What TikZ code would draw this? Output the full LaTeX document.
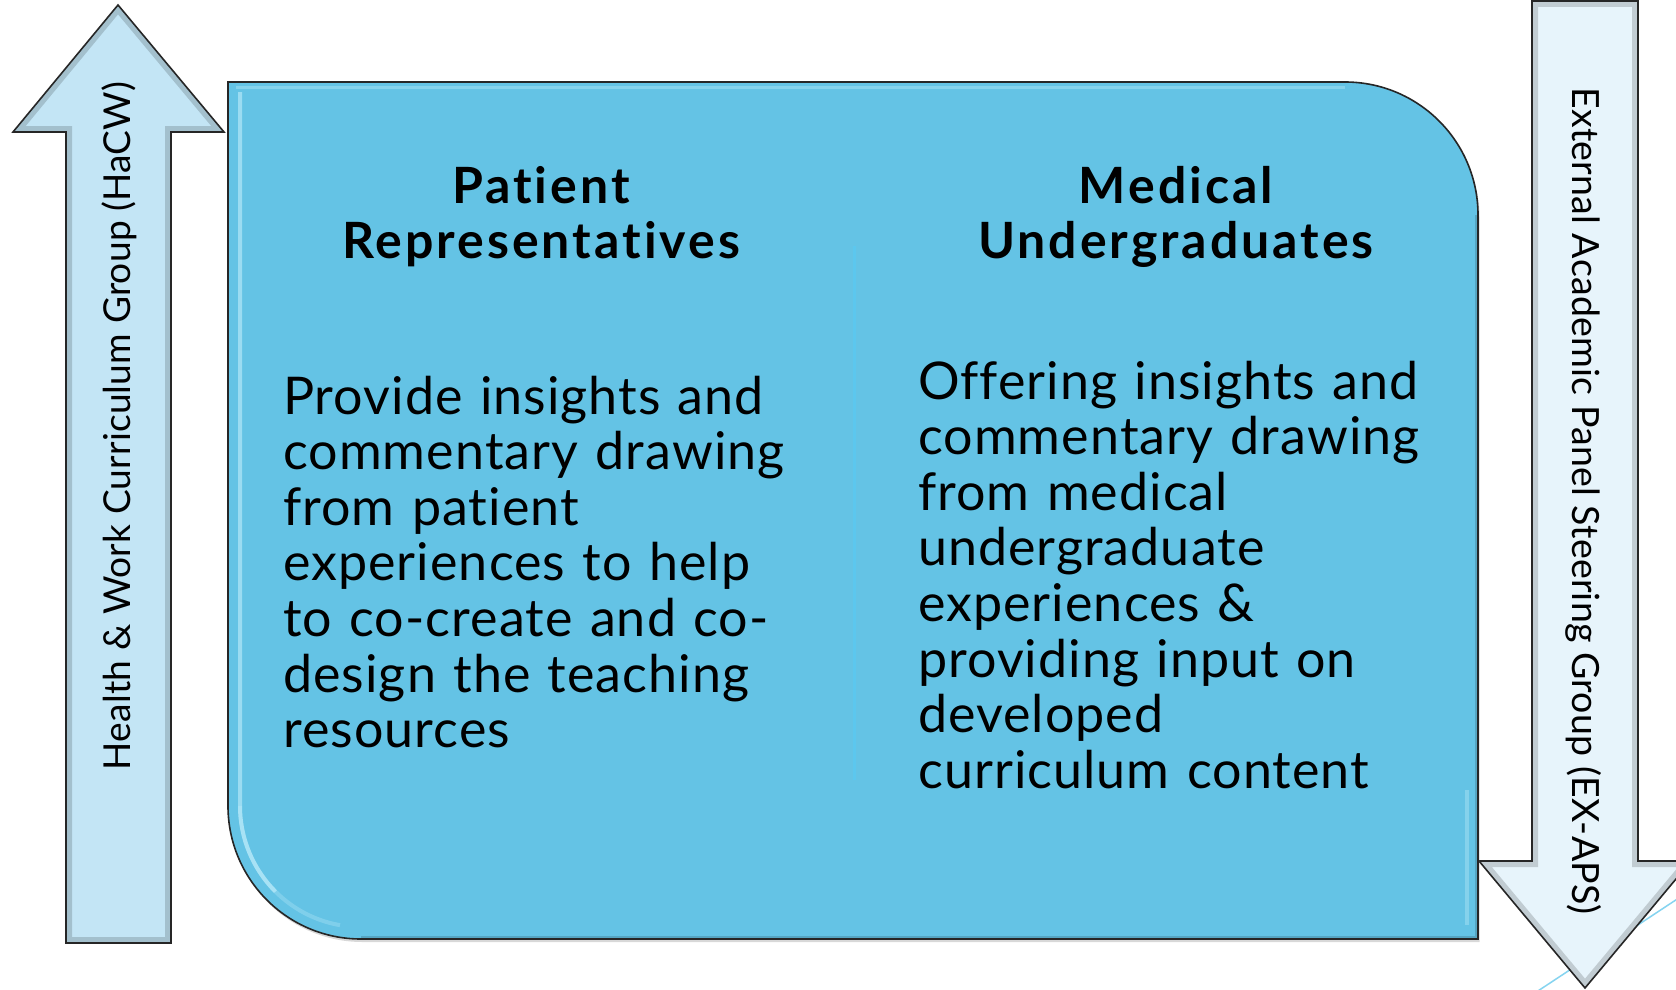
\documentclass[tikz,border=0pt]{standalone}
\usepackage{fontspec}
\setmainfont{Lato}
\newfontfamily\headfont[LetterSpace=6,Ligatures=NoCommon]{Lato}
\newfontfamily\bodyfont[LetterSpace=2,Ligatures=NoCommon]{Lato}
\newfontfamily\sidefont[LetterSpace=0.5,Ligatures=NoCommon]{Lato}
\usetikzlibrary{shadows}
\definecolor{boxblue}{HTML}{64C3E5}
\definecolor{leftfill}{HTML}{C3E5F5}
\definecolor{rightfill}{HTML}{E7F4FB}
\definecolor{divider}{HTML}{5CC7EE}
\definecolor{deco}{HTML}{86D4F0}
\definecolor{hilite}{HTML}{D2F6FF}
\begin{document}
\begin{tikzpicture}[x=1pt,y=-1pt,
  outline/.style={draw=black!85, line width=1.6pt, line join=miter},
  bevel/.style={draw=black, opacity=0.16, line width=12pt},
  bodytext/.style={inner sep=0pt, anchor=base west, text width=640pt, align=left,
    font=\bodyfont\fontsize{52}{55.6}\selectfont},
  headtext/.style={inner sep=0pt, anchor=base, text width=640pt, align=center,
    font=\headfont\bfseries\fontsize{50}{55.6}\selectfont},
  sidetext/.style={inner sep=0pt, anchor=base, font=\sidefont\fontsize{37.5}{40}\selectfont}]
\useasboundingbox (0,0) rectangle (1676,990);
\clip (0,0) rectangle (1676,990);
\fill[white] (0,0) rectangle (1676,990);

% decorative background line
\draw[deco, line width=1.5pt] (1500,1016) -- (1700,884);

% left arrow (up)
\fill[leftfill] (118,5) -- (224,132) -- (171,132) -- (171,943) -- (66,943) -- (66,132) -- (13,132) -- cycle;
\begin{scope}
  \clip (118,5) -- (224,132) -- (171,132) -- (171,943) -- (66,943) -- (66,132) -- (13,132) -- cycle;
  \draw[bevel] (118,5) -- (224,132) -- (171,132) -- (171,943) -- (66,943) -- (66,132) -- (13,132) -- cycle;
\end{scope}
\draw[outline] (118,5) -- (224,132) -- (171,132) -- (171,943) -- (66,943) -- (66,132) -- (13,132) -- cycle;

% right arrow (down)
\fill[rightfill] (1532,1) -- (1638,1) -- (1638,861) -- (1691,861) -- (1585,988) -- (1479,861) -- (1532,861) -- cycle;
\begin{scope}
  \clip (1532,1) -- (1638,1) -- (1638,861) -- (1691,861) -- (1585,988) -- (1479,861) -- (1532,861) -- cycle;
  \draw[bevel] (1532,1) -- (1638,1) -- (1638,861) -- (1691,861) -- (1585,988) -- (1479,861) -- (1532,861) -- cycle;
\end{scope}
\draw[outline] (1532,1) -- (1638,1) -- (1638,861) -- (1691,861) -- (1585,988) -- (1479,861) -- (1532,861) -- cycle;

% main box
\fill[boxblue, drop shadow={opacity=0.3, shadow xshift=1.5pt, shadow yshift=-3pt}]
  (228,82) -- (1345,82) arc[start angle=270, end angle=360, radius=133]
  -- (1478,939) -- (361,939) arc[start angle=90, end angle=180, radius=133] -- cycle;
\begin{scope}
  \clip (228,82) -- (1345,82) arc[start angle=270, end angle=360, radius=133]
    -- (1478,939) -- (361,939) arc[start angle=90, end angle=180, radius=133] -- cycle;
  \draw[hilite, opacity=0.5, line width=4pt] (240,92) -- (240,806)
    arc[start angle=180, end angle=135, radius=121];
  \draw[hilite, opacity=0.25, line width=4pt] (240,806)
    arc[start angle=180, end angle=100, radius=121];
  \draw[hilite, opacity=0.3, line width=3pt] (236,87) -- (1345,87);
  \draw[hilite, opacity=0.3, line width=4pt] (1467,790) -- (1467,925);
  \draw[black, opacity=0.15, line width=6pt] (361,939) -- (1478,939) -- (1478,215);
\end{scope}
\draw[outline] (228,82) -- (1345,82) arc[start angle=270, end angle=360, radius=133]
  -- (1478,939) -- (361,939) arc[start angle=90, end angle=180, radius=133] -- cycle;

% faint divider
\draw[divider, line width=3pt] (854,246) -- (854,780);

% headings
\node[headtext] (pathead) at (541,203) {Patient\\Representatives};
\node[headtext] (medhead) at (1176,203) {Medical\\Undergraduates};

% body texts
\node[bodytext] (patbody) at (283,414) {Provide insights and\\commentary drawing\\from patient\\experiences to help\\to co-create and co-\\design the teaching\\resources};
\node[bodytext] (medbody) at (918,399) {Offering insights and\\commentary drawing\\from medical\\undergraduate\\experiences \&\\providing input on\\developed\\curriculum content};

% side labels
\node[sidetext, rotate=90, font=\sidefont\fontsize{37.1}{40}\selectfont] (hacw) at (130,426) {Health \& Work Curriculum Group (HaCW)};
\node[sidetext, rotate=-90] (exaps) at (1572,501) {External Academic Panel Steering Group (EX-APS)};
\end{tikzpicture}
\end{document}
